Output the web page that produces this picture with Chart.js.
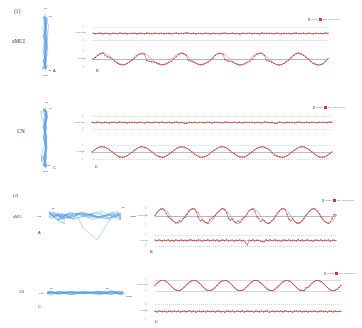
<!DOCTYPE html>
<html><head><meta charset="utf-8">
<script src="https://cdn.jsdelivr.net/npm/chart.js@4"></script>
<style>
html,body{margin:0;padding:0;background:#fff;}
#fig{position:relative;width:362px;height:328px;overflow:hidden;background:#fff;}
.cv{position:absolute;}
.t{position:absolute;white-space:nowrap;line-height:1;color:#444;font-family:"Liberation Sans",Arial,sans-serif;}
.serif{font-family:"Liberation Serif","Times New Roman",serif;color:#333;}
.yt{position:absolute;white-space:nowrap;line-height:1;color:#777;font-family:"Liberation Sans",sans-serif;font-size:2.5px;text-align:right;width:20px;}
.lg{position:absolute;font-family:"Liberation Sans",sans-serif;font-size:2.5px;color:#777;white-space:nowrap;line-height:1;}
.sw{display:inline-block;width:2.5px;height:2.5px;vertical-align:middle;margin:0 1px 0 1.5px;}
</style></head><body><div id="fig"></div>
<script>
// ---------- DATA ----------
// Target (sinusoidal stimulus), vertical tracking task
const targetV = [
0,5.7,10.6,13.9,15,13.9,10.6,5.7,0,-5.7,-10.6,-13.9,-15,-13.9,-10.6,-5.7,
0,5.7,10.6,13.9,15,13.9,10.6,5.7,0,-5.7,-10.6,-13.9,-15,-13.9,-10.6,-5.7,
0,5.7,10.6,13.9,15,13.9,10.6,5.7,0,-5.7,-10.6,-13.9,-15,-13.9,-10.6,-5.7,
0,5.7,10.6,13.9,15,13.9,10.6,5.7,0,-5.7,-10.6,-13.9,-15,-13.9,-10.6,-5.7,
0,5.7,10.6,13.9,15,13.9,10.6,5.7,0,-5.7,-10.6,-13.9,-15,-13.9,-10.6,-5.7,
0,5.7,10.6,13.9,15,13.9,10.6,5.7,0,-5.7,-10.6,-13.9,-15,-13.9,-10.6,-5.7,
0];
// Target, horizontal tracking task
const targetH = [
0,7.3,13.4,17.6,19,17.6,13.4,7.3,0,-7.3,-13.4,-17.6,-19,-17.6,-13.4,-7.3,
0,7.3,13.4,17.6,19,17.6,13.4,7.3,0,-7.3,-13.4,-17.6,-19,-17.6,-13.4,-7.3,
0,7.3,13.4,17.6,19,17.6,13.4,7.3,0,-7.3,-13.4,-17.6,-19,-17.6,-13.4,-7.3,
0,7.3,13.4,17.6,19,17.6,13.4,7.3,0,-7.3,-13.4,-17.6,-19,-17.6,-13.4,-7.3,
0,7.3,13.4,17.6,19,17.6,13.4,7.3,0,-7.3,-13.4,-17.6,-19,-17.6,-13.4,-7.3,
0,7.3,13.4,17.6,19,17.6,13.4,7.3,0,-7.3,-13.4,-17.6,-19,-17.6,-13.4,-7.3,
0];
// (1) vertical task, aMCI: vertical eye position
const aMCI_v1_vert = [
0,4,9,13,15,9,5,4,-1,-6,-10,-13,-14,-14,-11,-7,
-3,2,8,12,13,12,-4,-6,-7,-8,-10,-12,-14,-14,-12,-9,
-6,0,6,11,14,13,10,-3,-5,-7,-10,-13,-14,-13,-11,-8,
-4,2,9,13,14,12,-2,-5,-6,-7,-11,-13,-15,-14,-12,-9,
-6,-1,7,12,14,14,9,-4,-5,-8,-11,-14,-15,-14,-11,-7,
-3,3,9,13,15,12,9,4,0,-6,-11,-13,-15,-14,-12,-6,
1];
// (1) vertical task, aMCI: horizontal eye position
const aMCI_v1_horiz = [
0.3,-0.2,0.1,0.4,-0.3,0.2,0,-0.4,0.3,0.1,-0.2,0.5,-0.1,0.2,-0.3,0.1,
0,0.3,-0.4,0.2,0.1,-0.2,0.4,0,-0.3,0.2,0.1,-0.1,0.3,-0.2,0,0.2,
-0.3,0.1,0.4,-0.2,0.1,0,0.6,0.3,-0.1,0.2,-0.3,0.1,0,-0.2,0.3,0.1,
-0.4,0.2,0,0.1,-0.3,0.2,0.4,-0.1,0,0.3,-0.2,0.1,-0.5,0.2,0,0.1,
0.3,-0.2,0.1,0,-0.3,0.4,0.1,-0.1,0.2,0,-0.2,0.3,0.1,-0.4,0.2,0,
0.1,-0.3,0.2,0.4,-0.1,0,0.2,-0.2,0.3,0.1,-0.3,0.2,0,0.1,-0.2,0.5,
0.2];
// (1) vertical task, CN: vertical eye position
const CN_v1_vert = [
0,6,11,14,15,14,11,6,1,-5,-10,-14,-15,-14,-11,-6,
-1,5,10,14,15,13,11,5,0,-6,-11,-13,-15,-14,-10,-5,
0,6,11,14,14,14,10,6,0,-6,-10,-14,-15,-13,-11,-6,
1,5,10,14,15,14,11,5,-1,-5,-10,-14,-14,-14,-10,-5,
0,6,11,13,15,13,10,6,-2,-9,-12,-14,-15,-14,-11,-6,
0,5,10,14,15,14,10,6,0,-6,-11,-14,-15,-14,-10,-5,
0];
// (1) vertical task, CN: horizontal eye position
const CN_v1_horiz = [
0.5,-0.3,0.8,0.2,-0.6,0.4,0.1,-0.8,0.6,0.3,-0.4,0.9,-0.2,0.4,-0.7,0.2,
0.1,0.6,-0.5,0.3,0.2,-0.9,0.7,0,-0.4,0.5,0.2,-0.3,0.8,-0.5,0.1,0.4,
-0.6,0.3,0.7,-0.4,0.2,-1.5,-1.2,0.5,-0.2,0.4,-0.5,0.2,0.1,-0.4,0.6,0.3,
-0.7,0.4,0.1,0.2,-0.6,0.5,0.8,-0.2,0.1,0.6,-0.4,0.3,-0.9,0.4,0,0.2,
0.6,-0.4,0.2,0.1,-0.6,0.8,0.3,-0.2,0.4,-1.4,-1.1,0.6,0.2,-0.7,0.4,0.1,
0.2,-0.6,0.4,0.7,-0.3,0.1,0.5,-0.4,0.6,0.2,-0.5,0.4,0.1,0.2,-0.4,0.8,
0.3];
// (2) horizontal task, aMCI: horizontal eye position
const aMCI_h2_horiz = [
2,8,14,17,18,14,6,-2,-6,-10,-14,-17,-16,-12,-14,-6,
-3,4,12,16,18,17,10,-4,-12,-10,-14,-16,-18,-10,-6,-2,
2,8,12,17,18,15,8,-6,-10,-8,-14,-17,-12,-16,-8,-4,
-1,6,14,16,17,12,-2,-6,-14,-10,-12,-16,-18,-17,-12,-8,
0,7,12,17,18,16,4,-8,-12,-6,-14,-17,-18,-16,-12,-6,
2,6,12,16,18,17,12,6,-2,-8,-14,-16,-18,-14,-6,4,
2];
// (2) horizontal task, aMCI: vertical eye position
const aMCI_h2_vert = [
0.8,-0.5,1.2,0.3,-1,0.6,-0.2,1.4,-0.8,0.4,-1.3,0.9,0.2,-0.6,1.1,-0.4,
0.5,-1.2,0.7,1.5,-0.3,0.2,-0.9,1,0.4,-1.5,0.6,-0.2,1.3,-0.7,0.3,0.9,
-0.6,1.1,-1.4,0.4,0.8,-0.5,1.6,-1,0.3,0.7,-1.2,0.5,-0.3,1.2,-0.8,0.2,
-4,-8,0.5,-0.4,1.3,-0.9,0.6,0.2,-1.5,-2.5,-2,0.8,-0.6,1.4,-0.2,0.7,
1,-0.7,0.3,-1.3,0.9,0.4,-0.5,1.2,-1,0.6,0.1,-0.8,1.5,-0.4,0.8,-1.1,
0.4,1.1,-0.6,0.2,-1.4,0.8,0.5,-0.3,1.2,-0.9,0.6,-0.2,1,-1.3,0.3,0.7,
-0.2];
// (2) horizontal task, CN: horizontal eye position
const CN_h2_horiz = [
1,8,14,18,20,18,13,7,0,-7,-13,-17,-19,-18,-13,-7,
0,7,13,17,19,18,14,8,1,-6,-13,-18,-19,-17,-13,-8,
0,8,14,17,19,17,13,7,-1,-8,-14,-18,-19,-18,-14,-7,
0,7,13,18,19,18,12,6,0,-7,-13,-17,-19,-18,-13,-7,
-1,6,13,17,19,17,14,7,0,-7,-14,-17,-18,-18,-8,-6,
0,8,14,18,19,17,13,7,0,-7,-13,-18,-19,-17,-13,-7,
1];
// (2) horizontal task, CN: vertical eye position
const CN_h2_vert = [
0.4,-0.6,0.9,0.2,-0.3,0.7,-0.8,0.3,0.5,-0.4,1,-0.2,0.6,-0.7,0.1,0.8,
-0.5,0.3,1.2,-0.4,0.6,-0.9,0.2,0.7,-0.3,0.5,-0.6,0.9,0.1,-0.2,0.6,-0.8,
0.3,0.8,-0.5,0.2,-1,0.6,0.4,-0.3,0.9,-0.6,0.2,0.5,-0.4,1.1,-0.7,0.3,
0.6,-0.2,0.4,-0.8,0.7,0.1,-0.5,0.9,-0.3,0.4,0.8,-1.2,0.2,0.5,-0.4,0.6,
-0.3,0.7,-0.6,1,0.2,-0.4,0.5,-0.9,0.3,0.6,-0.2,0.8,-0.5,0.1,0.4,-0.7,
0.5,-0.4,0.8,0.1,-0.6,0.3,0.9,-0.2,0.4,-0.8,0.6,0.2,-0.5,0.7,-0.1,0.4,
0.2];
const seriesNames = ['Target', 'Eye movement'];

// ---------- DRAWING ----------
const fig = document.getElementById('fig');
const times = targetV.map((_, i) => i);
const GREY = 'rgb(180,180,180)', RED = 'rgba(205,55,55,0.9)', BLUE = 'rgba(80,156,226,0.8)';

function canvasAt(left, top, w, h) {
  const c = document.createElement('canvas');
  c.className = 'cv'; c.width = w; c.height = h;
  c.style.left = left + 'px'; c.style.top = top + 'px';
  c.style.width = w + 'px'; c.style.height = h + 'px';
  fig.appendChild(c); return c;
}
function text(str, left, top, size, cls, color) {
  const d = document.createElement('div');
  d.className = cls || 't'; d.textContent = str;
  d.style.left = left + 'px'; d.style.top = top + 'px';
  if (size) d.style.fontSize = size + 'px';
  if (color) d.style.color = color;
  fig.appendChild(d); return d;
}
function ytitle(str, right, midY) {
  return text(str, right - 20, midY - 1.3, null, 'yt');
}
function legend(left, top) {
  const d = document.createElement('div');
  d.className = 'lg'; d.style.left = left + 'px'; d.style.top = top + 'px';
  d.innerHTML = '<span class="sw" style="background:' + GREY + '"></span>' + seriesNames[0] +
    '<span class="sw" style="background:rgb(205,55,55)"></span>' + seriesNames[1];
  fig.appendChild(d);
}
function refPlugin(lines) {
  return {
    id: 'refLines',
    beforeDatasetsDraw(chart) {
      const { ctx, chartArea: a, scales } = chart;
      ctx.save();
      lines.forEach(l => {
        ctx.beginPath();
        ctx.strokeStyle = l.color; ctx.lineWidth = l.w || 0.7;
        ctx.setLineDash(l.dash || []);
        if (l.y !== undefined) {
          const y = Math.round(scales.y.getPixelForValue(l.y)) + 0.5;
          ctx.moveTo(a.left, y); ctx.lineTo(a.right, y);
        } else {
          const x = Math.round(scales.x.getPixelForValue(l.x)) + 0.5;
          ctx.moveTo(x, a.top); ctx.lineTo(x, a.bottom);
        }
        ctx.stroke();
      });
      ctx.restore();
    }
  };
}
const YW = 10, P = 2;
function series(x0, x1, y0, y1, range, step, sets, lines) {
  const c = canvasAt(x0 - YW, y0 - P, x1 - x0 + YW, y1 - y0 + 2 * P);
  new Chart(c, {
    type: 'line',
    data: { labels: times, datasets: sets },
    options: {
      responsive: false, animation: false, devicePixelRatio: 1,
      layout: { padding: { top: P, bottom: P, left: 0, right: 0 } },
      plugins: { legend: { display: false }, tooltip: { enabled: false } },
      scales: {
        x: { display: false },
        y: {
          min: -range, max: range,
          grid: { display: false }, border: { display: false },
          ticks: { stepSize: step, font: { size: 3, family: 'Liberation Sans' }, color: '#888', padding: 1 },
          afterFit(s) { s.width = YW; }
        }
      }
    },
    plugins: [refPlugin(lines || [])]
  });
}
function eyeSet(data) {
  return { data, borderColor: RED, borderWidth: 0.6, pointRadius: 0.7, pointBorderWidth: 0,
    pointBackgroundColor: RED, tension: 0, order: 0 };
}
function targetSet(data) {
  return { data, borderColor: GREY, borderWidth: 0.9, pointRadius: 0, tension: 0.4, order: 1 };
}
function gaze(x0, x1, y0, y1, xr, yr, hs, vs, lines) {
  const c = canvasAt(x0, y0, x1 - x0, y1 - y0);
  const pts = hs.map((h, i) => ({ x: h, y: vs[i] }));
  new Chart(c, {
    type: 'scatter',
    data: { datasets: [{ data: pts, showLine: true, borderColor: BLUE, borderWidth: 0.5, pointRadius: 0, tension: 0 }] },
    options: {
      responsive: false, animation: false, devicePixelRatio: 1,
      layout: { padding: 0 },
      plugins: { legend: { display: false }, tooltip: { enabled: false } },
      scales: {
        x: { display: false, min: xr[0], max: xr[1] },
        y: { display: false, min: yr[0], max: yr[1] }
      }
    },
    plugins: [refPlugin(lines || [])]
  });
}

// ===== (1) vertical tracking =====
text('(1)', 14, 9, 5.5, 't serif');
text('aMCI', 12, 39, 5.5, 't serif');
text('CN', 17, 129, 5.5, 't serif');
gaze(38, 52, 14, 71, [-1.2, 1.2], [-16, 16], aMCI_v1_horiz, aMCI_v1_vert, [{ x: 0, color: 'rgba(120,120,120,0.6)', w: 0.5 }]);
text('Up', 44, 8, 2.5); text('20°', 49, 16, 2.5); text('20°', 48.5, 69.5, 2.5); text('Dow', 43, 74.5, 2.5);
text('A', 53, 69, 4);
series(93, 332, 25, 42, 5, 5, [targetSet(targetV.map(() => 0)), eyeSet(aMCI_v1_horiz)],
  [{ y: 5, color: '#cfe5e5' }, { y: -5, color: '#bdbdbd', dash: [1, 1] }]);
series(93, 332, 49, 69, 20, 20, [targetSet(targetV), eyeSet(aMCI_v1_vert)],
  [{ y: 0, color: '#9a9a9a' }]);
ytitle('Horizontal', 86, 33.5); ytitle('Vertical', 86, 59);
legend(306, 18);
text('B', 96, 69, 4);
gaze(38, 52, 107, 169, [-2.5, 2.5], [-16, 16], CN_v1_horiz, CN_v1_vert, [{ x: 0, color: 'rgba(120,120,120,0.6)', w: 0.5 }]);
text('Up', 45, 102, 2.5); text('20°', 49, 108, 2.5); text('20°', 48, 165, 2.5); text('Dow', 43, 171, 2.5);
text('C', 53, 166, 4);
series(92, 336, 114, 131, 10, 10, [targetSet(targetV.map(() => 0)), eyeSet(CN_v1_horiz)],
  [{ y: 10, color: '#cccccc', dash: [1, 1] }, { y: -10, color: '#cccccc', dash: [1, 1] }]);
series(92, 336, 143, 161, 20, 20, [targetSet(targetV), eyeSet(CN_v1_vert)],
  [{ y: 20, color: '#d8e4e4' }, { y: 0, color: '#a0a0a0' }, { y: -20, color: '#c8c8c8', dash: [1, 1] }]);
ytitle('Horizontal', 85, 123); ytitle('Vertical', 85, 152);
legend(311, 106);
text('D', 95, 165, 4);

// ===== (2) horizontal tracking =====
text('(2)', 13, 194, 4.5, 't serif');
text('aMCI', 13, 216, 3.5);
text('CN', 19, 291, 3.5);
gaze(45, 125, 204, 244, [-20, 20], [-9.33, 4], aMCI_h2_horiz, aMCI_h2_vert);
text('Left', 37, 216, 2.5); text('Right', 130, 216, 2.5);
text('20°', 52, 207.5, 2.5); text('20°', 122, 206.5, 2.5);
text('A', 38, 231, 4);
series(155, 340, 206, 226, 20, 20, [targetSet(targetH), eyeSet(aMCI_h2_horiz)],
  [{ y: 0, color: '#9a9a9a' }]);
series(155, 340, 233, 248, 10, 10, [targetSet(targetH.map(() => 0)), eyeSet(aMCI_h2_vert)],
  [{ y: 10, color: '#c8c8c8', dash: [1, 1] }, { y: -10, color: '#c8c8c8', dash: [1, 1] }]);
ytitle('Horizontal', 148, 216); ytitle('Vertical', 148, 241);
legend(320, 199);
text('B', 150, 250, 4);
gaze(45, 125, 283, 303, [-20, 20], [-5, 5], CN_h2_horiz, CN_h2_vert);
text('Left', 39, 292.5, 2.5); text('Right', 126, 295.5, 2.5);
text('20°', 50, 288, 2.5); text('20°', 106, 288, 2.5);
text('C', 38, 305, 4);
series(155, 345, 278, 293, 20, 20, [targetSet(targetH), eyeSet(CN_h2_horiz)],
  [{ y: 20, color: '#cccccc' }, { y: -20, color: '#cccccc' }]);
series(155, 345, 302, 321, 10, 10, [targetSet(targetH.map(() => 0)), eyeSet(CN_h2_vert)],
  [{ y: 10, color: '#c8c8c8', dash: [1, 1] }]);
ytitle('Horizontal', 148, 285.5); ytitle('Vertical', 148, 311);
legend(322, 272);
text('D', 155, 320, 4);
</script></body></html>
